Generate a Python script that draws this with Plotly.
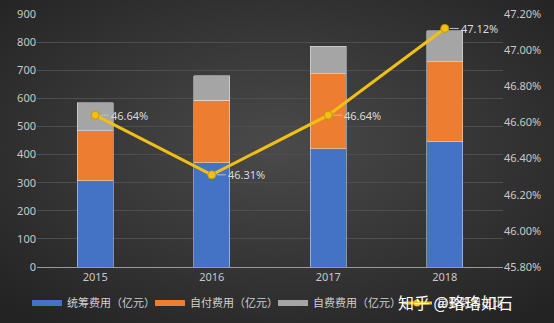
import base64
import plotly.graph_objects as go

years = ["2015", "2016", "2017", "2018"]
pooled = [306, 370, 420, 445]      # 统筹费用（亿元）
copay = [178, 224, 267, 285]       # 自付费用（亿元）
selfpay = [100, 86, 99, 110]       # 自费费用（亿元）
ratio = [46.64, 46.31, 46.64, 47.12]  # 自费费用占比 (%)

font_cn = "Noto Sans CJK SC, Noto Sans, sans-serif"
font_num = "Noto Sans, sans-serif"
tick_color = "#c8c8c8"

# dark radial background
svg = """<svg xmlns='http://www.w3.org/2000/svg' width='554' height='323'>
<defs><radialGradient id='g' cx='50%' cy='45%' r='70%'>
<stop offset='0%' stop-color='#4a4a4a'/><stop offset='100%' stop-color='#232323'/>
</radialGradient></defs><rect width='554' height='323' fill='url(#g)'/></svg>"""
bg_src = "data:image/svg+xml;base64," + base64.b64encode(svg.encode()).decode()

bar_series = [
    ("统筹费用（亿元）", pooled, "#4472c4"),
    ("自付费用（亿元）", copay, "#ed7d31"),
    ("自费费用（亿元）", selfpay, "#a5a5a5"),
]
line_color = "#f2c014"

fig = go.Figure()
for name, vals, color in bar_series:
    fig.add_trace(go.Bar(x=years, y=vals, name=name, marker_color=color,
                         showlegend=False))
fig.add_trace(go.Scatter(
    x=years, y=ratio, name="自费费用占比", yaxis="y2", mode="lines+markers",
    line=dict(color=line_color, width=3),
    marker=dict(size=8, color=line_color, line=dict(color="#c99a00", width=1)),
    showlegend=False,
))

# legend entries with wide swatches
for name, _, color in bar_series:
    fig.add_trace(go.Scatter(x=[None], y=[None], name=name, mode="lines",
                             line=dict(color=color, width=6), legend="legend"))
fig.add_trace(go.Scatter(x=[None], y=[None], name="自费费用占比", mode="lines+markers",
                         line=dict(color=line_color, width=3),
                         marker=dict(size=7, color=line_color), legend="legend2"))

for i, r in enumerate(ratio):
    fig.add_annotation(
        x=i, y=r, yref="y2", text=f"{r:.2f}%", showarrow=True,
        arrowhead=0, arrowwidth=1, arrowcolor="#bfbfbf", ax=14, ay=0,
        xanchor="left", standoff=5,
        font=dict(family=font_num, size=11, color="#d9d9d9"),
    )

# watermark, positioned in pixel terms relative to the plot area
fig.add_annotation(
    x=(515 - 37) / 466, y=-(302 - 267) / 253, xref="paper", yref="paper", showarrow=False,
    text="知乎 @珞珞如石", xanchor="right", yanchor="middle",
    font=dict(family=font_cn, size=16, color="#ffffff"),
)

legend_common = dict(
    orientation="h", xanchor="left", y=-(303 - 267) / 253, yanchor="middle",
    font=dict(family=font_cn, size=11, color="#d0d0d0"),
    itemwidth=30, entrywidth=78, entrywidthmode="pixels",
    traceorder="normal", bgcolor="rgba(0,0,0,0)",
)

fig.update_layout(
    width=554, height=323,
    margin=dict(l=37, r=51, t=14, b=56, autoexpand=False),
    paper_bgcolor="#2e2e2e", plot_bgcolor="rgba(0,0,0,0)",
    images=[dict(source=bg_src, xref="paper", yref="paper", x=-37 / 466, y=1 + 14 / 253,
                 sizex=554 / 466, sizey=323 / 253, sizing="stretch", layer="below")],
    barmode="stack", bargap=0.69,
    showlegend=True,
    legend=dict(x=(27 - 37) / 466, **legend_common),
    legend2=dict(x=(397 - 37) / 466, **legend_common),
    xaxis=dict(type="category", showgrid=False, showline=True, linecolor="#9a9a9a",
               linewidth=1, ticks="", tickfont=dict(family=font_num, size=11, color=tick_color)),
    yaxis=dict(range=[0, 900], dtick=100, showgrid=True, gridcolor="#4e4e4e", gridwidth=1,
               zeroline=False, ticks="", tickfont=dict(family=font_num, size=11, color=tick_color)),
    yaxis2=dict(range=[45.8, 47.2], dtick=0.2, overlaying="y", side="right", showgrid=False,
                zeroline=False, ticksuffix="%", tickformat=".2f",
                tickfont=dict(family=font_num, size=11, color=tick_color)),
)

fig.write_html("out.html")
